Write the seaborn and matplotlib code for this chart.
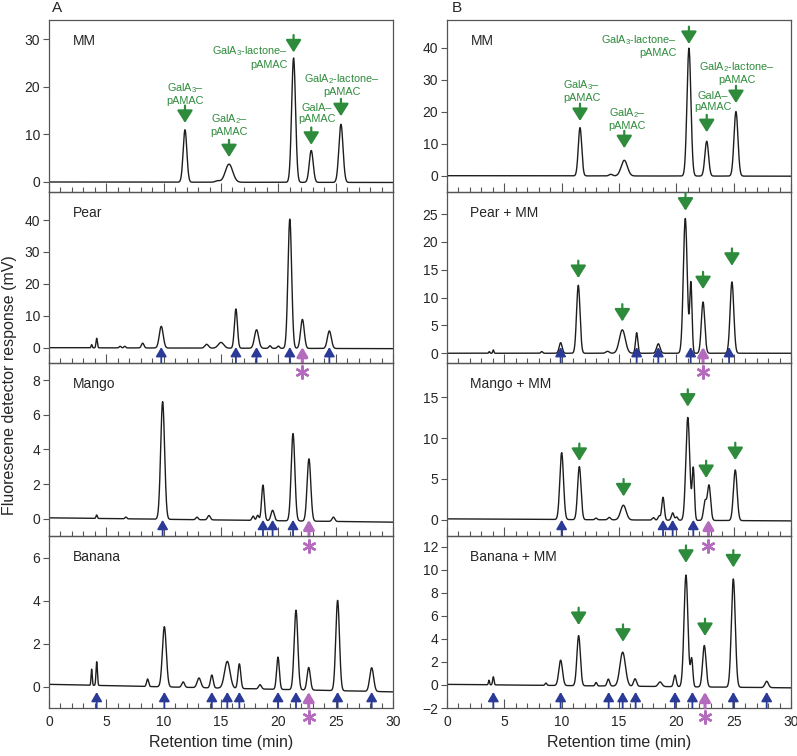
import numpy as np
import pandas as pd
import matplotlib
matplotlib.use('Agg')
import matplotlib.pyplot as plt
from matplotlib.ticker import MultipleLocator
import seaborn as sns

# Peaks: (retention time [min], height [mV], sigma [min])
mm_a_peaks = [(11.86, 11.0, 0.16), (14.7, 0.3, 0.2), (15.7, 3.8, 0.32), (21.33, 26.1, 0.17),
              (22.87, 6.7, 0.17), (25.46, 12.2, 0.18)]
pear_a_peaks = [(3.72, 1.0, 0.05), (4.16, 3.0, 0.06), (6.2, 0.5, 0.08), (6.6, 0.5, 0.08),
                (8.17, 1.5, 0.11), (9.79, 6.8, 0.17), (13.75, 1.2, 0.16), (15.0, 1.8, 0.24),
                (16.3, 12.3, 0.13), (18.1, 5.8, 0.18), (19.27, 0.8, 0.1), (20.0, 0.7, 0.1),
                (21.0, 40.5, 0.16), (22.1, 9.1, 0.16), (24.45, 5.5, 0.17)]
mango_a_peaks = [(4.16, 0.2, 0.06), (6.7, 0.1, 0.08), (9.91, 6.8, 0.17), (12.9, 0.15, 0.1),
                 (13.95, 0.25, 0.12), (17.8, 0.25, 0.1), (18.2, 0.3, 0.1), (18.66, 2.05, 0.12),
                 (19.5, 0.6, 0.14), (21.28, 5.05, 0.16), (22.67, 3.6, 0.16), (24.8, 0.25, 0.12)]
banana_a_peaks = [(3.72, 0.75, 0.05), (4.16, 1.1, 0.06), (8.6, 0.35, 0.09), (10.06, 2.8, 0.17),
                  (11.7, 0.25, 0.12), (13.08, 0.45, 0.16), (14.2, 0.6, 0.12), (15.55, 1.25, 0.24),
                  (16.6, 1.15, 0.12), (18.4, 0.2, 0.12), (19.97, 1.5, 0.12), (21.54, 3.7, 0.16),
                  (22.65, 1.05, 0.14), (25.17, 4.2, 0.16), (28.14, 1.1, 0.17)]
mm_b_peaks = [(11.6, 15.1, 0.15), (14.28, 0.5, 0.15), (15.46, 4.9, 0.27), (21.1, 40.0, 0.17),
              (22.65, 10.9, 0.16), (25.2, 20.2, 0.17)]
pear_b_peaks = [(3.69, 0.3, 0.05), (4.04, 0.6, 0.05), (8.26, 0.3, 0.08), (9.91, 1.9, 0.13),
                (11.45, 12.2, 0.15), (14.0, 0.35, 0.15), (15.29, 4.2, 0.26), (16.54, 3.7, 0.1),
                (18.43, 1.7, 0.15), (20.78, 24.2, 0.17), (21.27, 12.5, 0.1), (22.33, 9.2, 0.15),
                (24.85, 12.8, 0.16)]
mango_b_peaks = [(10.0, 8.2, 0.16), (11.54, 6.5, 0.15), (13.0, 0.2, 0.1), (14.15, 0.3, 0.12),
                 (15.38, 1.8, 0.24), (18.0, 0.3, 0.1), (18.5, 0.5, 0.1), (18.84, 2.8, 0.11),
                 (19.68, 0.9, 0.11), (20.03, 0.4, 0.1), (21.0, 12.6, 0.17), (21.48, 6.3, 0.1),
                 (22.5, 2.3, 0.13), (22.85, 4.3, 0.14), (25.14, 6.2, 0.16)]
banana_b_peaks = [(3.66, 0.4, 0.05), (4.04, 0.7, 0.06), (8.63, 0.2, 0.08), (9.91, 2.2, 0.16),
                  (11.48, 4.35, 0.15), (13.0, 0.3, 0.08), (14.07, 0.6, 0.11), (15.32, 2.95, 0.24),
                  (16.4, 0.65, 0.13), (18.58, 0.4, 0.16), (19.88, 1.0, 0.11), (20.84, 9.7, 0.17),
                  (21.34, 2.4, 0.1), (22.44, 3.6, 0.15), (24.97, 9.4, 0.17), (27.88, 0.55, 0.15)]

# baseline at 0 and 30 min
mm_a_base = (0.0, -0.1)
pear_a_base = (0.0, -0.3)
mango_a_base = (0.05, -0.2)
banana_a_base = (0.1, -0.25)
mm_b_base = (0.0, -0.15)
pear_b_base = (0.0, 0.0)
mango_b_base = (0.1, -0.15)
banana_b_base = (0.05, -0.25)

# green marker arrows (retention time, tip value)
mm_a_green = [(11.86, 12.4), (15.7, 5.2), (21.33, 27.2), (22.87, 7.8), (25.46, 13.8)]
mm_b_green = [(11.6, 17.1), (15.46, 8.6), (21.1, 41.2), (22.65, 13.6), (25.2, 22.7)]
pear_b_green = [(11.45, 13.5), (15.29, 5.7), (20.8, 25.6), (22.33, 11.5), (24.85, 15.7)]
mango_b_green = [(11.54, 7.2), (15.4, 2.85), (21.0, 13.85), (22.6, 5.1), (25.14, 7.3)]
banana_b_green = [(11.48, 5.2), (15.35, 3.75), (20.84, 10.6), (22.5, 4.25), (24.97, 10.2)]

# blue fruit-peak arrows and the magenta (*) peak
pear_a_blue = [9.79, 16.3, 18.1, 21.0, 24.45]
mango_a_blue = [9.91, 18.66, 19.5, 21.28]
banana_a_blue = [4.16, 10.06, 14.2, 15.55, 16.6, 19.97, 21.54, 25.17, 28.14]
pear_b_blue = [9.91, 16.54, 18.43, 21.25, 24.6]
mango_b_blue = [10.0, 18.84, 19.68, 21.48]
banana_b_blue = [4.04, 9.91, 14.1, 15.32, 16.45, 19.88, 21.4, 24.97, 27.88]
pear_a_star, mango_a_star, banana_a_star = 22.1, 22.67, 22.65
pear_b_star, mango_b_star, banana_b_star = 22.33, 22.8, 22.5

panel_names = ['MM', 'Pear', 'Mango', 'Banana', 'MM', 'Pear + MM', 'Mango + MM', 'Banana + MM']
ylims = [(-2.1, 34), (-4.8, 48.8), (-1.0, 9.0), (-1.0, 7.0),
         (-5.1, 48.7), (-1.75, 28.95), (-2.0, 19.2), (-2.0, 12.93)]
yticks = [[0, 10, 20, 30], [0, 10, 20, 30, 40], [0, 2, 4, 6, 8], [0, 2, 4, 6],
          [0, 10, 20, 30, 40], [0, 5, 10, 15, 20, 25], [0, 5, 10, 15], [-2, 0, 2, 4, 6, 8, 10, 12]]

# MM product labels: text, x, y, alignment
mm_labels = ['GalA$_3$–\npAMAC', 'GalA$_2$–\npAMAC', 'GalA$_3$-lactone–\npAMAC',
             'GalA$_2$-lactone–\npAMAC', 'GalA–\npAMAC']
mm_a_label_pos = [(11.86, 18.55, 'center'), (15.7, 12.05, 'center'), (20.84, 26.2, 'right'),
                  (25.52, 20.4, 'center'), (23.35, 14.4, 'center')]
mm_b_label_pos = [(11.75, 26.6, 'center'), (15.7, 17.9, 'center'), (20.03, 40.7, 'right'),
                  (25.26, 32.25, 'center'), (23.2, 23.2, 'center')]

GREEN = '#2e8b3c'
BLUE = '#2b3a96'
MAGENTA = '#b56bbd'

sns.set_style('ticks')
plt.rcParams['font.family'] = ['Liberation Sans', 'DejaVu Sans']
plt.rcParams['mathtext.fontset'] = 'custom'
plt.rcParams['mathtext.rm'] = 'Liberation Sans'
plt.rcParams['mathtext.it'] = 'Liberation Sans:italic'
plt.rcParams['mathtext.bf'] = 'Liberation Sans:bold'

t_grid = np.linspace(0, 30, 3001)


def trace(peaks, base):
    y = np.linspace(base[0], base[1], t_grid.size)
    for rt, h, w in peaks:
        y = y + h * np.exp(-0.5 * ((t_grid - rt) / w) ** 2)
    return pd.DataFrame({'time': t_grid, 'signal': y})


def green_arrow(ax, rt, tip):
    ax.annotate('', xy=(rt, tip), xytext=(0, 12.5), textcoords='offset points',
                arrowprops=dict(arrowstyle='-|>,head_length=0.75,head_width=0.47',
                                color=GREEN, lw=1.6, shrinkA=0, shrinkB=0, mutation_scale=10))


def up_arrow(ax, rt, color, lw):
    ax.annotate('', xy=(rt, 0.093), xycoords=('data', 'axes fraction'),
                xytext=(rt, 0.0), textcoords=('data', 'axes fraction'),
                arrowprops=dict(arrowstyle='-|>,head_length=0.55,head_width=0.32',
                                color=color, lw=lw, shrinkA=0, shrinkB=0, mutation_scale=10))


fig = plt.figure(figsize=(7.97, 7.56), dpi=100)
lefts = [49 / 797, 447 / 797]
tops = [20, 192, 363, 536, 708]
axes = []
for col in range(2):
    for row in range(4):
        bottom = 1 - tops[row + 1] / 756
        height = (tops[row + 1] - tops[row]) / 756
        ax = fig.add_axes([lefts[col], bottom, 344 / 797, height])
        ax.set_facecolor('none')
        axes.append(ax)

all_peaks = [mm_a_peaks, pear_a_peaks, mango_a_peaks, banana_a_peaks,
             mm_b_peaks, pear_b_peaks, mango_b_peaks, banana_b_peaks]
all_base = [mm_a_base, pear_a_base, mango_a_base, banana_a_base,
            mm_b_base, pear_b_base, mango_b_base, banana_b_base]

for i, ax in enumerate(axes):
    df = trace(all_peaks[i], all_base[i])
    sns.lineplot(data=df, x='time', y='signal', ax=ax, color='#1e1e1e', lw=1.0)
    ax.set_xlim(0, 30)
    ax.set_ylim(*ylims[i])
    ax.set_yticks(yticks[i])
    ax.xaxis.set_major_locator(MultipleLocator(5))
    ax.xaxis.set_minor_locator(MultipleLocator(1))
    bottom_row = i % 4 == 3
    ax.tick_params(axis='x', which='major', direction='in', length=6.5, width=0.8,
                   color='#555555', labelbottom=bottom_row, labelsize=10, pad=5)
    ax.tick_params(axis='x', which='minor', direction='in', length=3.3, width=0.8,
                   color='#555555')
    ax.tick_params(axis='y', direction='out', length=4.3, width=0.8, color='#555555',
                   labelsize=10, pad=2)
    ax.set_ylabel('')
    if bottom_row:
        ax.set_xlabel('Retention time (min)', fontsize=11.5, labelpad=4)
    else:
        ax.set_xlabel('')
    for s in ax.spines.values():
        s.set_color('#555555')
        s.set_linewidth(0.9)
        s.set_visible(True)
    ax.text(0.068, 0.88, panel_names[i], transform=ax.transAxes, fontsize=10, va='center')

# MM panels: labels + green arrows
for ax, greens, label_pos in [(axes[0], mm_a_green, mm_a_label_pos), (axes[4], mm_b_green, mm_b_label_pos)]:
    for (rt, tip) in greens:
        green_arrow(ax, rt, tip)
    for txt, (x, y, ha) in zip(mm_labels, label_pos):
        ax.text(x, y, txt, color=GREEN, fontsize=7.8, ha=ha, va='center',
                multialignment=ha, linespacing=1.15)

for ax, greens in [(axes[5], pear_b_green), (axes[6], mango_b_green), (axes[7], banana_b_green)]:
    for (rt, tip) in greens:
        green_arrow(ax, rt, tip)

blue_sets = [(axes[1], pear_a_blue, pear_a_star), (axes[2], mango_a_blue, mango_a_star),
             (axes[3], banana_a_blue, banana_a_star), (axes[5], pear_b_blue, pear_b_star),
             (axes[6], mango_b_blue, mango_b_star), (axes[7], banana_b_blue, banana_b_star)]
for ax, blues, star in blue_sets:
    for rt in blues:
        up_arrow(ax, rt, BLUE, 1.3)
    up_arrow(ax, star, MAGENTA, 2.2)
    ax.plot([star], [-0.055], transform=ax.get_xaxis_transform(), marker=(6, 2, 0),
            ms=10, mew=1.7, color=MAGENTA, clip_on=False, zorder=10)

fig.text(52 / 797, 1 - 8 / 756, 'A', fontsize=11, va='center', ha='left')
fig.text(452 / 797, 1 - 8 / 756, 'B', fontsize=11, va='center', ha='left')
fig.text(10 / 797, 1 - 385 / 756, 'Fluorescene detector response (mV)', rotation=90,
         fontsize=11.5, va='center', ha='center')

fig.savefig('out.png', dpi=100)
